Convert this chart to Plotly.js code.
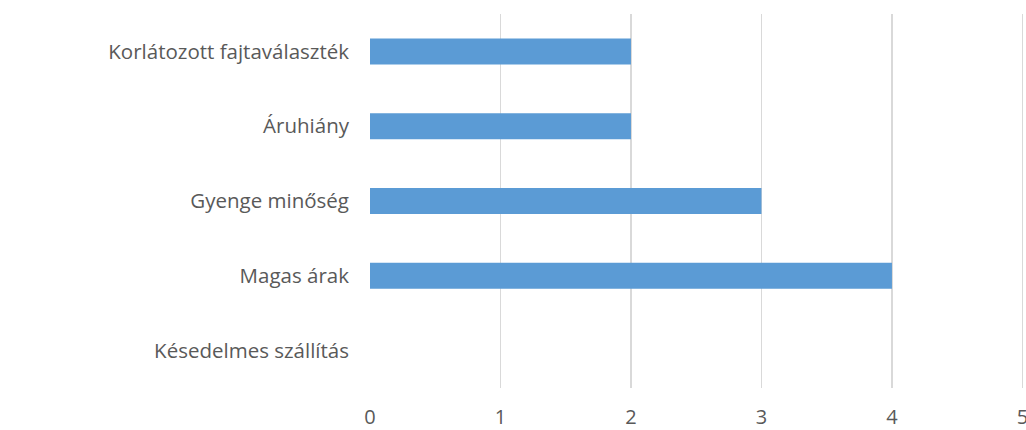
<!DOCTYPE html>
<html>
<head>
<meta charset="utf-8">
<script src="https://cdn.plot.ly/plotly-3.0.1.min.js"></script>
<style>html,body{margin:0;padding:0;background:#fff;}#chart{width:1026px;height:430px;}</style>
</head>
<body>
<div id="chart"></div>
<script>
var categories = ["Késedelmes szállítás", "Magas árak", "Gyenge minőség", "Áruhiány", "Korlátozott fajtaválaszték"];
var values = [0, 4, 3, 2, 2];
var xTicks = [0, 1, 2, 3, 4, 5];

var trace = {
  type: "bar",
  orientation: "h",
  y: categories,
  x: values,
  marker: {color: "#5b9bd5"},
  hoverinfo: "x+y"
};

var layout = {
  width: 1026,
  height: 430,
  margin: {l: 370, r: 2, t: 14, b: 42},
  paper_bgcolor: "#ffffff",
  plot_bgcolor: "#ffffff",
  bargap: 0.653,
  showlegend: false,
  font: {family: "'Open Sans', sans-serif", size: 20, color: "#595959"},
  xaxis: {
    range: [0, 5.012],
    tickvals: xTicks,
    ticktext: xTicks.map(String),
    showgrid: true,
    gridcolor: "#d9d9d9",
    gridwidth: 1.5,
    zeroline: false,
    showline: false,
    ticks: "",
    ticklabelstandoff: 15,
    ticklabeloverflow: "allow",
    tickfont: {size: 20, color: "#595959"},
    fixedrange: true
  },
  yaxis: {
    type: "category",
    categoryorder: "array",
    categoryarray: categories,
    showgrid: false,
    zeroline: false,
    showline: false,
    ticks: "",
    ticklabelstandoff: 20,
    tickfont: {size: 20.5, color: "#595959"},
    fixedrange: true
  }
};

Plotly.newPlot("chart", [trace], layout, {displayModeBar: false, staticPlot: true});
</script>
</body>
</html>
